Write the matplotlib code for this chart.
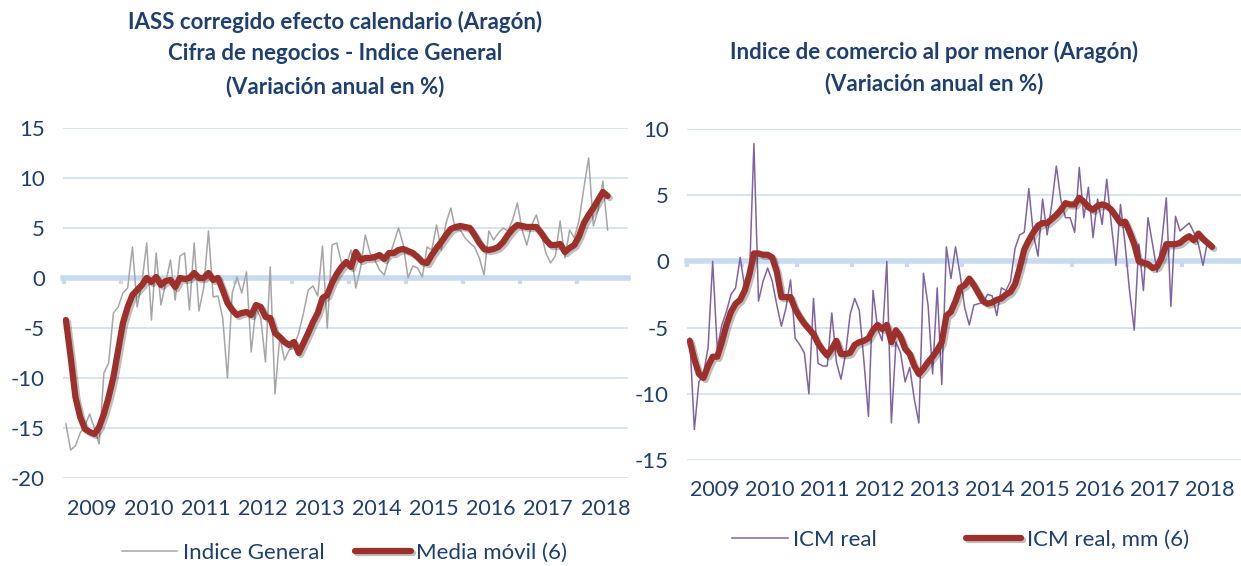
import numpy as np
import matplotlib.pyplot as plt
import matplotlib.patheffects as pe

plt.rcParams['font.family'] = ['Lato', 'DejaVu Sans']
plt.rcParams['axes.unicode_minus'] = False

# monthly data, Jan 2009 .. Jul 2018
years = ['2009', '2010', '2011', '2012', '2013', '2014', '2015', '2016', '2017', '2018']

iass = [-14.6, -17.2, -16.8, -15.5, -14.8, -13.6, -15.0, -16.6, -9.5, -8.5,
        -3.5, -2.9, -1.5, -1.0, 3.1, -2.9, -0.5, 3.5, -4.2, 2.5,
        -2.7, -0.5, 1.8, -2.2, 2.2, 2.5, -3.2, 3.5, -3.3, -1.0,
        4.7, -1.9, -1.8, -4.0, -10.0, -1.5, 0.1, -1.5, 0.6, -7.4,
        -3.0, -4.0, -8.4, 1.1, -11.6, -5.9, -8.2, -7.2, -6.8, -5.5,
        -3.5, -1.2, -0.8, -1.8, 3.2, -5.0, 3.3, 3.5, 1.5, 1.3,
        2.8, -1.0, 1.0, 4.3, 2.5, 1.8, 0.8, 0.3, 2.0, 3.5,
        5.0, 3.3, 0.0, 1.2, 1.0, 0.1, 3.1, 2.8, 5.3, 2.8,
        5.5, 7.0, 4.8, 4.8, 4.0, 3.5, 3.1, 2.0, 0.3, 4.7,
        3.8, 4.5, 5.0, 4.7, 5.8, 7.5, 4.8, 3.3, 5.3, 6.3,
        4.5, 2.5, 1.5, 2.2, 5.7, 2.0, 4.8, 4.0, 5.8, 9.0,
        12.0, 5.2, 6.8, 9.7, 4.8]

iass_mm = [-4.2, -7.9, -11.9, -13.9, -15.1, -15.4, -15.6, -14.9, -13.6, -11.9,
           -9.9, -7.2, -4.5, -2.9, -1.7, -1.2, -0.7, 0.0, -0.4, 0.1,
           -0.7, -0.3, -0.2, -0.9, 0.0, -0.1, 0.0, 0.5, 0.0, 0.0,
           0.5, -0.2, 0.0, -1.2, -2.5, -3.2, -3.7, -3.5, -3.4, -3.7,
           -2.7, -2.9, -3.9, -4.0, -5.5, -5.9, -6.4, -6.7, -6.4, -7.5,
           -6.5, -5.5, -4.4, -3.5, -2.0, -1.7, -0.5, 0.4, 1.1, 1.6,
           1.1, 2.6, 1.8, 2.0, 2.0, 2.1, 2.3, 1.9, 2.5, 2.5,
           2.8, 2.9, 2.7, 2.5, 2.1, 1.6, 1.5, 2.3, 3.0, 3.6,
           4.3, 4.9, 5.1, 5.2, 5.1, 5.0, 4.3, 3.5, 2.9, 2.8,
           2.9, 3.1, 3.6, 4.3, 4.9, 5.3, 5.2, 5.1, 5.1, 5.1,
           4.5, 3.8, 3.3, 3.3, 3.4, 2.6, 3.0, 3.3, 4.2, 5.5,
           6.3, 7.0, 7.8, 8.6, 8.2]

icm = [-5.8, -12.7, -9.1, -8.5, -6.5, 0.0, -6.6, -4.8, -3.8, -2.5,
       -2.0, 0.3, -2.0, -1.5, 8.9, -3.0, -1.5, -0.5, -1.5, -3.3,
       -4.9, -3.5, -1.4, -5.8, -6.3, -6.9, -10.0, -2.8, -7.7, -7.9,
       -7.9, -3.9, -7.6, -8.9, -7.0, -4.0, -2.8, -3.7, -7.5, -11.7,
       -2.2, -5.1, -6.0, 0.0, -12.2, -6.1, -6.9, -9.1, -8.0, -10.4,
       -12.2, -0.9, -3.3, -8.5, -2.0, -9.3, 1.1, -1.3, 1.1, -1.0,
       -3.5, -4.8, -3.3, -3.2, -3.1, -2.5, -2.6, -4.1, -2.0, -2.2,
       -1.5, 1.0, 2.0, 2.2, 5.5, 2.0, 0.4, 4.7, 2.0, 4.3,
       7.2, 4.6, 3.3, 3.3, 2.2, 7.1, 3.3, 5.6, 1.8, 4.7,
       2.8, 6.2, 2.8, -0.3, 4.3, 1.3, -2.3, -5.2, 1.3, -2.2,
       3.3, 1.3, -0.8, 1.5, 4.8, -3.4, 3.4, 2.3, 2.6, 2.9,
       2.2, 1.3, -0.3, 1.5, 0.9]

icm_mm = [-6.0, -7.4, -8.5, -8.8, -7.9, -7.2, -7.2, -6.1, -4.8, -3.8,
          -3.2, -2.9, -2.2, -1.0, 0.6, 0.6, 0.5, 0.5, 0.3, -0.8,
          -2.7, -2.7, -2.7, -3.6, -4.2, -4.7, -5.1, -5.5, -6.2, -6.7,
          -7.1, -6.6, -6.0, -7.0, -7.0, -6.9, -6.3, -6.1, -6.0, -5.8,
          -5.2, -4.8, -5.1, -4.8, -6.1, -5.2, -5.7, -6.6, -7.0, -7.9,
          -8.5, -8.1, -7.6, -7.2, -6.7, -6.1, -4.1, -3.8, -3.0, -2.0,
          -1.8, -1.3, -1.8, -2.4, -3.0, -3.2, -3.1, -2.9, -2.8, -2.5,
          -2.3, -1.7, -0.5, 0.9, 1.6, 2.2, 2.7, 2.9, 2.9, 3.2,
          3.5, 3.9, 4.4, 4.3, 4.3, 4.8, 4.5, 4.1, 3.9, 4.2,
          4.3, 4.2, 3.9, 3.4, 2.9, 3.0, 2.2, 1.3, 0.0, -0.1,
          -0.2, -0.5, -0.4, 0.3, 1.3, 1.3, 1.3, 1.4, 1.7, 1.9,
          1.6, 2.1, 1.7, 1.4, 1.1]

navy = '#1F3F6E'
grid_c = '#D6E2F0'
zero_c = '#C8DAEF'
red = '#9E302B'
shadow = [pe.SimpleLineShadow(offset=(1.5, -1.5), alpha=0.25), pe.Normal()]

fig = plt.figure(figsize=(12.41, 5.66), dpi=100)
ax1 = fig.add_axes([0.0508, 0.1555, 0.4553, 0.6184])
ax2 = fig.add_axes([0.5536, 0.1873, 0.4464, 0.5848])


def style(ax, yt, xmax):
    ax.set_xlim(-0.6, xmax)
    ax.set_ylim(yt[0], yt[-1])
    ax.set_yticks(yt)
    ax.yaxis.grid(True, color=grid_c, lw=1.3)
    ax.set_axisbelow(True)
    for s in ['top', 'right', 'left']:
        ax.spines[s].set_visible(False)
    ax.spines['bottom'].set_position(('data', 0))
    ax.spines['bottom'].set_color(zero_c)
    ax.spines['bottom'].set_linewidth(4)
    ax.set_xticks(np.arange(len(years)) * 12 - 0.5)
    ax.tick_params(axis='x', length=4, width=3, color=zero_c, labelbottom=False)
    ax.tick_params(axis='y', length=0, pad=13, labelsize=16, labelcolor=navy)
    for i, y in enumerate(years):
        ax.text(i * 12 + 5.5, -0.09, y, transform=ax.get_xaxis_transform(),
                ha='center', va='center', fontsize=15.5, color=navy, clip_on=False)


m = np.arange(len(iass))
style(ax1, list(range(-20, 16, 5)), 118.3)
l1, = ax1.plot(m, iass, color='#A6A6A6', lw=1.1, zorder=3)
l2, = ax1.plot(m, iass_mm, color=red, lw=4.5, solid_capstyle='round',
               solid_joinstyle='round', zorder=4, path_effects=shadow)

m2 = np.arange(len(icm))
style(ax2, list(range(-15, 11, 5)), 120.3)
l3, = ax2.plot(m2, icm, color='#8064A2', lw=1.1, zorder=3)
l4, = ax2.plot(m2, icm_mm, color=red, lw=4.5, solid_capstyle='round',
               solid_joinstyle='round', zorder=4, path_effects=shadow)

tkw = dict(ha='center', va='center', fontsize=16, fontweight='bold', color=navy)
fig.text(0.270, 0.961, 'IASS corregido efecto calendario (Aragón)', **tkw)
fig.text(0.270, 0.905, 'Cifra de negocios - Indice General', **tkw)
fig.text(0.270, 0.848, '(Variación anual en %)', **tkw)
fig.text(0.753, 0.908, 'Indice de comercio al por menor (Aragón)', **tkw)
fig.text(0.753, 0.852, '(Variación anual en %)', **tkw)

lkw = dict(frameon=False, ncol=2, fontsize=16, handlelength=2.5,
           handletextpad=0.25, labelcolor=navy)
fig.legend([l1, l2], ['Indice General', 'Media móvil (6)'], columnspacing=1.4,
           loc='center', bbox_to_anchor=(0.2776, 0.023), **lkw)
fig.legend([l3, l4], ['ICM real', 'ICM real, mm (6)'], columnspacing=4.0,
           loc='center', bbox_to_anchor=(0.774, 0.046), **lkw)

fig.savefig('out.png', dpi=100)
